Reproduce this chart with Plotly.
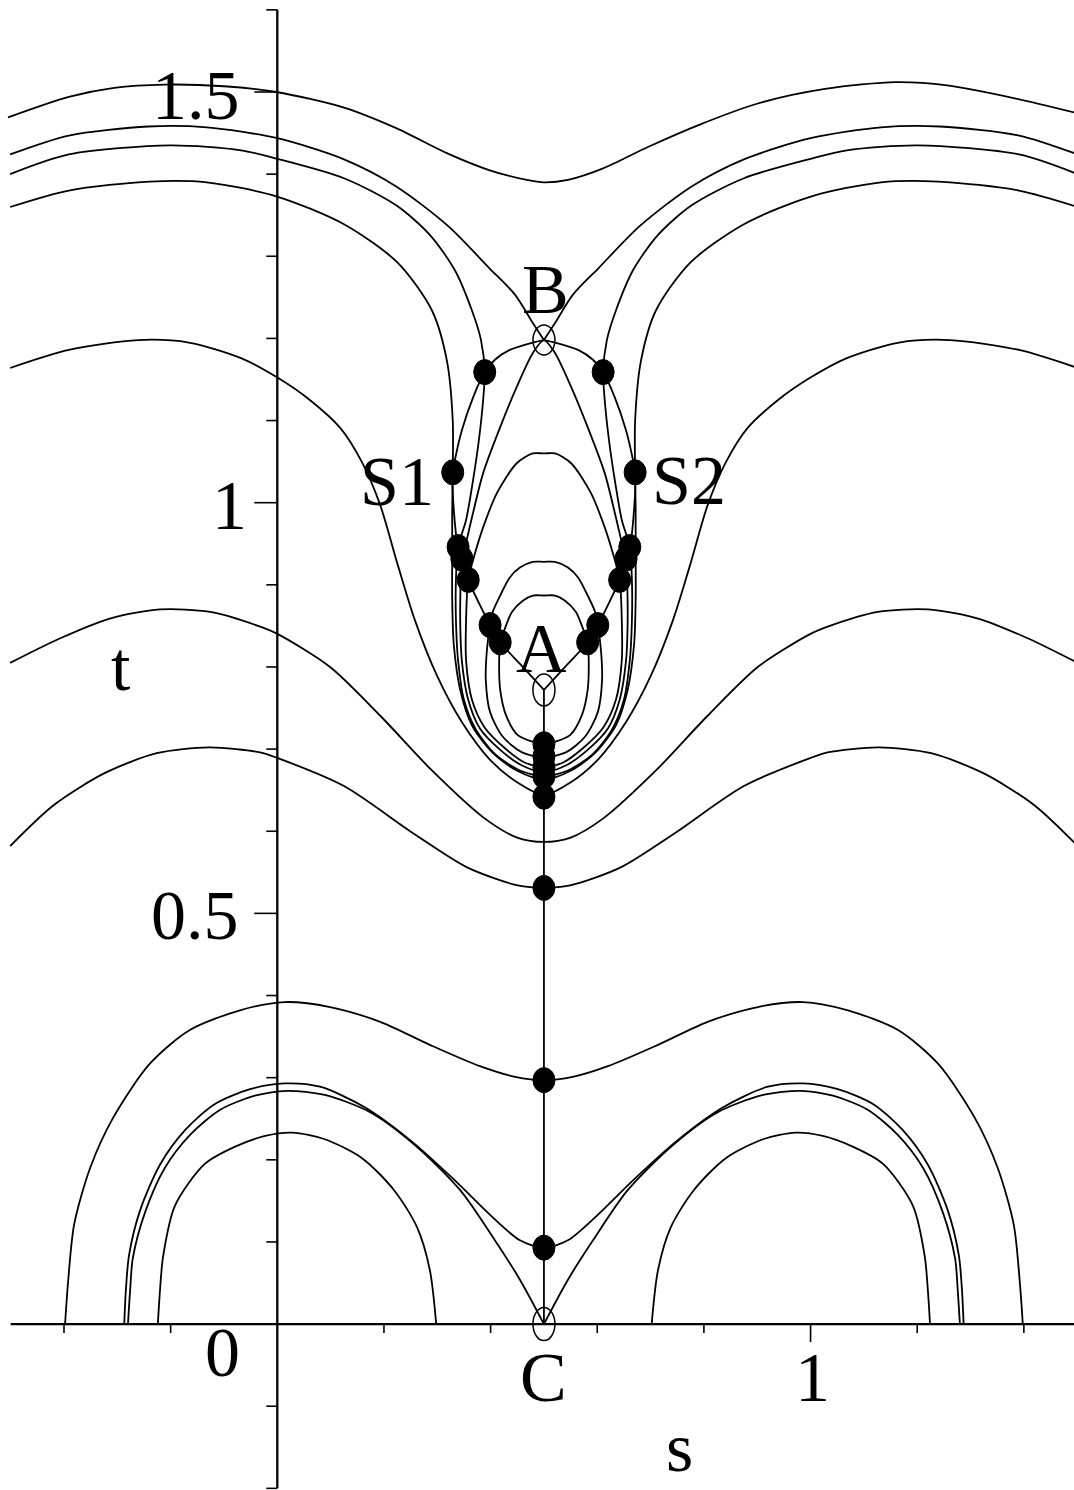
import plotly.graph_objects as go

# ---------------- level curves (s, t) ----------------
# upper band, open curves spanning the whole s window
u1_s = [-0.505, -0.391, -0.306, -0.211, -0.100, -0.002, 0.125, 0.223, 0.320, 0.397, 0.468, 0.500,
        0.545, 0.611, 0.695, 0.791, 0.901, 1.030, 1.160, 1.256, 1.385, 1.501]
u1_t = [1.469, 1.494, 1.505, 1.509, 1.507, 1.500, 1.481, 1.456, 1.425, 1.405, 1.393, 1.390,
        1.393, 1.407, 1.433, 1.460, 1.486, 1.504, 1.512, 1.508, 1.492, 1.474]

# separatrix through B (upper branches)
u2l_s = [-0.501, -0.391, -0.242, -0.132, -0.002, 0.125, 0.223, 0.320, 0.397, 0.446, 0.478, 0.500]
u2l_t = [1.424, 1.447, 1.458, 1.457, 1.444, 1.418, 1.385, 1.337, 1.286, 1.253, 1.220, 1.198]
u2r_s = [0.500, 0.522, 0.554, 0.603, 0.680, 0.777, 0.875, 1.002, 1.132, 1.242, 1.391, 1.501]
u2r_t = [1.198, 1.220, 1.253, 1.286, 1.337, 1.385, 1.418, 1.444, 1.457, 1.458, 1.447, 1.424]

# separatrix through B (lower loop into the well)
u2b_s = [0.500, 0.479, 0.449, 0.418, 0.386, 0.365, 0.352, 0.346, 0.344, 0.343, 0.346, 0.358, 0.380,
         0.418, 0.459, 0.500, 0.541, 0.582, 0.620, 0.642, 0.654, 0.657, 0.656, 0.654, 0.648, 0.635,
         0.614, 0.582, 0.551, 0.521, 0.500]
u2b_t = [1.198, 1.182, 1.141, 1.092, 1.036, 0.982, 0.946, 0.932, 0.906, 0.857, 0.808, 0.760, 0.725,
         0.699, 0.680, 0.672, 0.680, 0.699, 0.725, 0.760, 0.808, 0.857, 0.906, 0.932, 0.946, 0.982,
         1.036, 1.092, 1.141, 1.182, 1.198]

u3_s = [-0.501, -0.391, -0.201, -0.068, -0.002, 0.125, 0.223, 0.286, 0.333, 0.365, 0.382, 0.389,
        0.386, 0.378, 0.367, 0.354, 0.339, 0.335, 0.335, 0.339, 0.350, 0.373, 0.410, 0.455, 0.500,
        0.545, 0.590, 0.627, 0.650, 0.661, 0.665, 0.665, 0.661, 0.646, 0.633, 0.622, 0.614, 0.611,
        0.618, 0.635, 0.667, 0.714, 0.777, 0.875, 1.002, 1.068, 1.201, 1.391, 1.501]
u3_t = [1.400, 1.424, 1.435, 1.429, 1.419, 1.395, 1.362, 1.326, 1.283, 1.234, 1.198, 1.159,
        1.125, 1.076, 1.027, 0.979, 0.946, 0.906, 0.857, 0.808, 0.760, 0.723, 0.693, 0.674, 0.667,
        0.674, 0.693, 0.723, 0.760, 0.808, 0.857, 0.906, 0.946, 0.979, 1.027, 1.076, 1.125, 1.159,
        1.198, 1.234, 1.283, 1.326, 1.362, 1.395, 1.419, 1.429, 1.435, 1.424, 1.400]

u4_s = [-0.501, -0.391, -0.239, -0.132, -0.002, 0.125, 0.226, 0.290, 0.318, 0.329, 0.329, 0.328,
        0.328, 0.328, 0.331, 0.343, 0.365, 0.403, 0.449, 0.500,
        0.551, 0.597, 0.635, 0.657, 0.669, 0.672, 0.672, 0.672, 0.671, 0.671, 0.682, 0.710,
        0.774, 0.875, 1.002, 1.132, 1.239, 1.391, 1.501]
u4_t = [1.360, 1.380, 1.391, 1.390, 1.373, 1.339, 1.292, 1.234, 1.173, 1.100, 1.037, 0.991,
        0.942, 0.881, 0.827, 0.772, 0.729, 0.696, 0.674, 0.663,
        0.674, 0.696, 0.729, 0.772, 0.827, 0.881, 0.942, 0.991, 1.037, 1.100, 1.173, 1.234,
        1.292, 1.339, 1.373, 1.390, 1.391, 1.380, 1.360]

u5_s = [-0.501, -0.391, -0.261, -0.166, -0.068, 0.001, 0.061, 0.118, 0.159, 0.193, 0.226, 0.258,
        0.299, 0.346, 0.399, 0.451, 0.500, 0.549, 0.601, 0.654, 0.701, 0.742, 0.774, 0.807,
        0.841, 0.882, 0.939, 0.999, 1.068, 1.166, 1.261, 1.391, 1.501]
u5_t = [1.164, 1.186, 1.198, 1.195, 1.176, 1.152, 1.125, 1.091, 1.049, 0.997, 0.924, 0.857,
        0.790, 0.733, 0.687, 0.659, 0.644, 0.659, 0.687, 0.733, 0.790, 0.857, 0.924, 0.997,
        1.049, 1.091, 1.125, 1.152, 1.176, 1.195, 1.198, 1.186, 1.164]

# closed loops around A
w1_s = [0.500, 0.479, 0.449, 0.412, 0.386, 0.371, 0.358, 0.354, 0.354, 0.365, 0.389, 0.427, 0.463,
        0.500, 0.537, 0.573, 0.611, 0.635, 0.646, 0.646, 0.642, 0.629, 0.614, 0.588, 0.551, 0.521, 0.500]
w1_t = [1.060, 1.060, 1.048, 1.012, 0.970, 0.939, 0.906, 0.857, 0.808, 0.760, 0.726, 0.701, 0.684,
        0.678, 0.684, 0.701, 0.726, 0.760, 0.808, 0.857, 0.906, 0.939, 0.970, 1.012, 1.048, 1.060, 1.060]

w2_s = [0.500, 0.479, 0.455, 0.436, 0.418, 0.404, 0.399, 0.393, 0.391, 0.399, 0.423, 0.459, 0.500,
        0.541, 0.577, 0.601, 0.609, 0.607, 0.601, 0.596, 0.582, 0.564, 0.545, 0.521, 0.500]
w2_t = [0.928, 0.928, 0.921, 0.909, 0.887, 0.867, 0.851, 0.820, 0.784, 0.745, 0.715, 0.696, 0.690,
        0.696, 0.715, 0.745, 0.784, 0.820, 0.851, 0.867, 0.887, 0.909, 0.921, 0.928, 0.928]

w3_s = [0.500, 0.479, 0.461, 0.440, 0.427, 0.418, 0.416, 0.418, 0.429, 0.451, 0.479, 0.500,
        0.521, 0.549, 0.571, 0.582, 0.584, 0.582, 0.573, 0.560, 0.539, 0.521, 0.500]
w3_t = [0.887, 0.887, 0.881, 0.867, 0.847, 0.830, 0.808, 0.772, 0.741, 0.717, 0.709, 0.706,
        0.709, 0.717, 0.741, 0.772, 0.808, 0.830, 0.847, 0.867, 0.881, 0.887, 0.887]

# middle band
m1_s = [-0.501, -0.407, -0.314, -0.220, -0.126, -0.036, 0.001, 0.099, 0.194, 0.290, 0.388, 0.451, 0.500,
        0.549, 0.612, 0.710, 0.806, 0.901, 0.999, 1.036, 1.126, 1.220, 1.314, 1.407, 1.501]
m1_t = [0.805, 0.835, 0.859, 0.870, 0.867, 0.850, 0.840, 0.800, 0.740, 0.674, 0.616, 0.592, 0.587,
        0.592, 0.616, 0.674, 0.740, 0.800, 0.840, 0.850, 0.867, 0.870, 0.859, 0.835, 0.805]

m2_s = [-0.501, -0.419, -0.323, -0.226, -0.128, -0.032, 0.001, 0.125, 0.256, 0.356, 0.451, 0.500,
        0.549, 0.644, 0.744, 0.875, 0.999, 1.032, 1.128, 1.226, 1.323, 1.419, 1.501]
m2_t = [0.582, 0.632, 0.671, 0.695, 0.702, 0.696, 0.689, 0.655, 0.597, 0.556, 0.534, 0.531,
        0.534, 0.556, 0.597, 0.655, 0.689, 0.696, 0.702, 0.695, 0.671, 0.632, 0.582]

# lower band, arches standing on t = 0
l1_s = [-0.398, -0.392, -0.381, -0.351, -0.308, -0.239, -0.164, -0.070, 0.014, 0.099, 0.193, 0.286,
        0.380, 0.446, 0.500, 0.554, 0.620, 0.714, 0.807, 0.901, 0.986, 1.070, 1.164, 1.239, 1.308,
        1.351, 1.381, 1.392, 1.398]
l1_t = [0.000, 0.054, 0.121, 0.190, 0.251, 0.317, 0.358, 0.382, 0.392, 0.386, 0.368, 0.340,
        0.314, 0.301, 0.297, 0.301, 0.314, 0.340, 0.368, 0.386, 0.392, 0.382, 0.358, 0.317, 0.251,
        0.190, 0.121, 0.054, 0.000]

l2_s = [-0.287, -0.284, -0.278, -0.257, -0.220, -0.173, -0.117, -0.051, 0.014, 0.080, 0.164, 0.249,
        0.333, 0.399, 0.455, 0.500, 0.545, 0.601, 0.667, 0.751, 0.836, 0.920, 0.986, 1.051, 1.117,
        1.173, 1.220, 1.257, 1.278, 1.284, 1.287]
l2_t = [0.000, 0.041, 0.084, 0.139, 0.194, 0.236, 0.268, 0.286, 0.293, 0.289, 0.264, 0.224,
        0.175, 0.133, 0.102, 0.093, 0.102, 0.133, 0.175, 0.224, 0.264, 0.289, 0.293, 0.286, 0.268,
        0.236, 0.194, 0.139, 0.084, 0.041, 0.000]

# separatrix through C (two halves meeting in a cusp)
l3l_s = [-0.280, -0.276, -0.271, -0.248, -0.211, -0.164, -0.107, -0.042, 0.018, 0.089, 0.174, 0.258,
         0.343, 0.408, 0.455, 0.500]
l3l_t = [0.000, 0.041, 0.080, 0.136, 0.190, 0.230, 0.261, 0.278, 0.284, 0.279, 0.258, 0.218,
         0.163, 0.102, 0.054, 0.000]
l3r_s = [0.500, 0.545, 0.592, 0.657, 0.742, 0.826, 0.911, 0.982, 1.042, 1.107, 1.164, 1.211,
         1.248, 1.271, 1.276, 1.280]
l3r_t = [0.000, 0.054, 0.102, 0.163, 0.218, 0.258, 0.279, 0.284, 0.278, 0.261, 0.230, 0.190,
         0.136, 0.080, 0.041, 0.000]

l4l_s = [-0.224, -0.220, -0.214, -0.192, -0.136, -0.079, -0.023, 0.028, 0.089, 0.159, 0.219, 0.262,
         0.286, 0.298]
l4l_t = [0.000, 0.041, 0.083, 0.144, 0.195, 0.216, 0.229, 0.233, 0.225, 0.202, 0.163, 0.118,
         0.066, 0.000]
l4r_s = [0.702, 0.714, 0.738, 0.781, 0.841, 0.911, 0.972, 1.023, 1.079, 1.136, 1.192, 1.214,
         1.220, 1.224]
l4r_t = [0.000, 0.066, 0.118, 0.163, 0.202, 0.225, 0.233, 0.229, 0.216, 0.195, 0.144, 0.083,
         0.041, 0.000]

# ---------------- paths joining the marked points ----------------
path_t = [1.198, 1.195, 1.186, 1.174, 1.159, 1.128, 1.088, 1.052, 1.037, 0.991, 0.946, 0.932,
          0.906, 0.878, 0.851, 0.830, 0.801, 0.772]
path_left_s = [0.500, 0.479, 0.436, 0.408, 0.389, 0.367, 0.346, 0.333, 0.329, 0.331, 0.339, 0.346,
               0.358, 0.378, 0.399, 0.418, 0.459, 0.500]
path_right_s = [0.500, 0.521, 0.564, 0.592, 0.611, 0.633, 0.654, 0.667, 0.671, 0.669, 0.661, 0.654,
                0.642, 0.622, 0.601, 0.582, 0.541, 0.500]
stem_s = [0.5, 0.5]
stem_t = [0.772, 0.0]

# ---------------- marked points ----------------
dot_s = [0.389, 0.329, 0.339, 0.346, 0.358, 0.399, 0.418,
         0.611, 0.671, 0.661, 0.654, 0.642, 0.601, 0.582,
         0.5, 0.5, 0.5, 0.5, 0.5, 0.5, 0.5, 0.5]
dot_t = [1.159, 1.037, 0.946, 0.932, 0.906, 0.851, 0.830,
         1.159, 1.037, 0.946, 0.932, 0.906, 0.851, 0.830,
         0.706, 0.691, 0.678, 0.667, 0.642, 0.531, 0.297, 0.093]

open_names = ["A", "B", "C"]
open_s = [0.5, 0.5, 0.5]
open_t = [0.772, 1.198, 0.0]
open_half_h = [16, 15, 16.5]   # half heights of the hollow markers, px

# ---------------- axes ----------------
s_ticks = [-0.4, -0.2, 0.2, 0.4, 0.6, 0.8, 1.0, 1.2, 1.4]
s_major = [1.0]
t_ticks = [-0.2, -0.1, 0.1, 0.2, 0.3, 0.4, 0.5, 0.6, 0.7, 0.8, 0.9, 1.0, 1.1, 1.2, 1.3, 1.4, 1.5, 1.6]
t_major = [0.5, 1.0, 1.5]

# text: (label, s, t)
labels = [
    ("1.5", -0.153, 1.496),
    ("1", -0.089, 0.996),
    ("0.5", -0.154, 0.498),
    ("t", -0.293, 0.800),
    ("0", -0.102, -0.035),
    ("C", 0.499, -0.065),
    ("1", 1.004, -0.065),
    ("s", 0.755, -0.150),
    ("S1", 0.224, 1.026),
    ("S2", 0.772, 1.027),
    ("B", 0.502, 1.260),
    ("A", 0.496, 0.822),
]

fig = go.Figure()


def add_curve(s, t, shape="spline"):
    fig.add_trace(go.Scatter(
        x=s, y=t, mode="lines",
        line=dict(color="black", width=1.8, shape=shape, smoothing=0.8),
        hoverinfo="skip", showlegend=False))


for cs, ct in [(u1_s, u1_t), (u2l_s, u2l_t), (u2r_s, u2r_t), (u2b_s, u2b_t),
               (u3_s, u3_t), (u4_s, u4_t), (u5_s, u5_t),
               (w1_s, w1_t), (w2_s, w2_t), (w3_s, w3_t),
               (m1_s, m1_t), (m2_s, m2_t),
               (l1_s, l1_t), (l2_s, l2_t), (l3l_s, l3l_t), (l3r_s, l3r_t),
               (l4l_s, l4l_t), (l4r_s, l4r_t),
               (path_left_s, path_t), (path_right_s, path_t)]:
    add_curve(cs, ct)
add_curve(stem_s, stem_t, shape="linear")

shapes = []
# axis lines through the origin
shapes.append(dict(type="line", xref="x", yref="y", x0=-0.5, x1=1.5, y0=0, y1=0,
                   line=dict(color="black", width=2.3)))
shapes.append(dict(type="line", xref="x", yref="y", x0=0, x1=0, y0=-0.2, y1=1.6,
                   line=dict(color="black", width=2.3)))
for v in s_ticks:
    ln = 18 if v in s_major else 9
    shapes.append(dict(type="line", xref="x", yref="y", ysizemode="pixel", yanchor=0,
                       x0=v, x1=v, y0=0, y1=-ln, line=dict(color="black", width=1.6)))
for v in t_ticks:
    ln = 23 if v in t_major else 11
    shapes.append(dict(type="line", xref="x", yref="y", xsizemode="pixel", xanchor=0,
                       x0=0, x1=-ln, y0=v, y1=v, line=dict(color="black", width=1.6)))

# filled points
for s, t in zip(dot_s, dot_t):
    shapes.append(dict(type="circle", xref="x", yref="y", xsizemode="pixel", ysizemode="pixel",
                       xanchor=s, yanchor=t, x0=-11, x1=11, y0=-12.5, y1=12.5,
                       fillcolor="black", line=dict(color="black", width=1)))
# hollow points A, B, C
for s, t, hh in zip(open_s, open_t, open_half_h):
    shapes.append(dict(type="circle", xref="x", yref="y", xsizemode="pixel", ysizemode="pixel",
                       xanchor=s, yanchor=t, x0=-11, x1=11, y0=-hh, y1=hh,
                       fillcolor="rgba(0,0,0,0)", line=dict(color="black", width=1.5)))

annotations = [dict(text=txt, x=s, y=t, xref="x", yref="y", showarrow=False,
                    xanchor="center", yanchor="middle",
                    font=dict(family="Liberation Serif, Times New Roman, serif", size=70, color="black"))
               for txt, s, t in labels]

fig.update_layout(
    width=1074, height=1490,
    margin=dict(l=0, r=0, t=0, b=0),
    paper_bgcolor="white", plot_bgcolor="white",
    xaxis=dict(range=[-0.520, 1.494], visible=False, fixedrange=True),
    yaxis=dict(range=[-0.202, 1.612], visible=False, fixedrange=True),
    shapes=shapes, annotations=annotations,
)

fig.write_html("out.html")
